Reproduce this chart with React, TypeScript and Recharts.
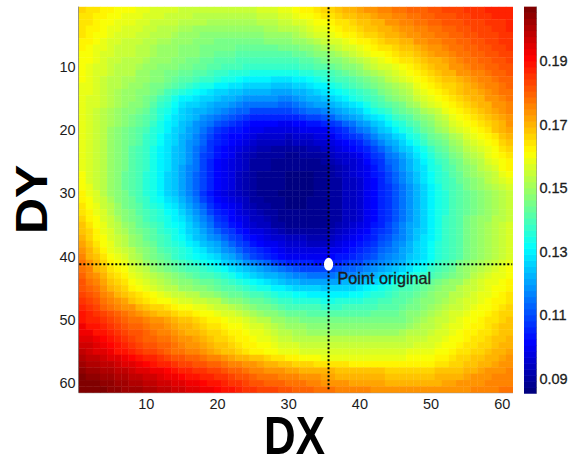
import { Scatter, ScatterChart, XAxis, YAxis } from "recharts";

const FONT = "Liberation Sans, Arial, sans-serif";
const FRAME = "#7f7f7f";
const INK = "#1c1c1c";

const V_MIN = 0.0853;
const V_MAX = 0.2072;

const AXIS_TICKS = [10, 20, 30, 40, 50, 60];
const BAR_TICKS = [0.09, 0.11, 0.13, 0.15, 0.17, 0.19];
const CROSS_X = 35.6;
const CROSS_Y = 41.2;
const V_LINE = [{ dx: CROSS_X, dy: 0.6 }, { dx: CROSS_X, dy: 61 }];
const H_LINE = [{ dx: 0.6, dy: CROSS_Y }, { dx: 61.4, dy: CROSS_Y }];
const ORIGIN = [{ dx: CROSS_X, dy: CROSS_Y }];

// values in thousandths, one line per DY (1..61), 61 per line for DX (1..61)
const VALUES = [
  [166,165,164,163,162, 161,160,160,159,158, 157,157,156,156,155, 155,155,155,154,154, 154,154,154,155,155, 156,157,157,158,159, 160,162,163,164,166, 167,168,170,171,172, 173,174,175,176,177, 178,179,179,180,181, 182,183,183,184,185, 186,186,187,187,188,188],
  [165,164,163,162,161, 160,159,159,158,157, 156,156,155,155,154, 154,153,153,152,152, 152,152,152,153,153, 154,155,155,156,157, 158,160,161,163,164, 165,166,168,169,170, 171,172,173,174,175, 176,177,178,179,180, 181,182,182,183,184, 185,185,186,187,187,188],
  [165,164,163,161,160, 159,158,158,157,156, 155,155,154,154,153, 153,152,152,151,151, 151,151,151,151,151, 152,153,153,154,155, 156,157,159,160,161, 162,164,165,167,168, 169,170,171,173,174, 175,176,177,178,179, 180,181,181,182,183, 184,184,185,185,186,187],
  [164,163,162,160,159, 158,157,157,156,155, 154,153,153,152,151, 151,150,150,149,149, 149,149,149,149,149, 150,151,151,152,152, 153,155,156,158,159, 161,162,164,165,167, 168,169,170,171,172, 173,174,175,176,177, 178,179,180,181,182, 183,184,184,185,186,187],
  [164,163,161,160,158, 157,156,156,155,154, 153,152,152,151,150, 149,149,148,148,147, 147,147,147,147,147, 148,149,149,150,150, 151,153,154,156,157, 159,160,162,163,165, 166,167,168,170,171, 172,173,174,175,176, 177,178,179,180,181, 182,183,183,184,185,186],
  [163,162,160,159,157, 156,155,155,154,153, 152,151,151,150,149, 149,148,147,147,146, 146,146,145,145,145, 146,147,147,148,148, 149,150,151,153,154, 156,157,159,160,162, 163,165,166,168,169, 170,171,173,174,175, 176,177,178,179,180, 181,182,183,184,185,186],
  [162,161,159,158,156, 155,155,154,153,152, 151,150,150,149,148, 148,147,146,146,145, 145,145,144,144,143, 143,144,144,145,145, 146,147,148,150,151, 153,154,156,157,159, 161,162,164,165,167, 168,169,170,172,173, 174,175,177,178,179, 180,181,182,183,184,185],
  [161,160,159,157,156, 155,155,154,153,152, 151,150,150,149,148, 148,147,146,145,144, 143,143,142,142,141, 141,141,141,142,142, 143,144,145,147,148, 150,151,153,154,156, 158,160,161,163,165, 166,167,169,170,172, 173,174,175,177,178, 179,180,181,182,183,184],
  [161,160,158,157,155, 154,153,153,152,151, 150,149,149,148,147, 146,145,144,143,142, 141,141,140,140,139, 139,139,139,139,139, 140,141,142,144,145, 147,148,150,151,153, 155,157,159,160,162, 164,165,167,168,170, 171,172,174,175,177, 178,179,180,181,182,183],
  [160,159,157,156,154, 153,152,152,151,150, 149,148,148,147,146, 145,144,143,142,141, 140,139,139,138,137, 137,137,137,137,137, 138,139,140,141,142, 144,145,147,148,150, 152,154,156,157,159, 161,163,165,166,168, 170,171,173,174,176, 177,178,179,180,181,182],
  [160,159,157,156,154, 153,152,152,150,149, 148,147,146,145,144, 143,142,141,139,138, 137,136,136,135,134, 134,134,133,133,133, 134,135,136,137,138, 140,142,144,145,147, 149,151,153,154,156, 158,160,162,164,166, 168,170,171,173,174, 175,176,178,179,180,181],
  [160,158,157,155,153, 152,151,151,150,149, 148,147,145,144,142, 141,140,138,137,135, 134,133,132,131,130, 130,130,129,129,129, 130,131,132,134,135, 137,139,140,142,144, 146,148,150,152,154, 156,158,160,162,164, 166,168,169,171,172, 173,175,176,177,179,180],
  [159,158,156,155,153, 152,151,150,149,148, 146,145,143,141,139, 137,136,134,133,131, 130,129,128,127,126, 126,126,125,125,125, 126,127,128,130,131, 133,135,137,139,141, 143,145,147,149,151, 153,155,158,160,162, 164,166,167,169,171, 172,173,175,176,178,179],
  [159,158,156,154,152, 151,150,149,148,147, 145,143,140,138,135, 133,132,130,129,127, 126,125,124,123,122, 122,122,121,121,121, 122,123,125,126,128, 130,132,134,136,138, 140,142,145,147,149, 151,153,156,158,160, 162,164,166,168,170, 171,172,174,175,177,178],
  [159,157,156,154,152, 151,150,149,147,146, 143,140,137,134,131, 130,129,127,126,124, 123,122,120,119,118, 118,118,118,117,117, 119,120,122,123,125, 127,129,131,133,135, 137,140,142,145,147, 149,151,154,156,158, 160,162,165,167,169, 170,171,173,174,176,177],
  [159,157,156,154,152, 151,150,148,147,145, 142,138,135,132,129, 127,126,124,123,121, 120,118,117,115,114, 114,114,114,113,113, 115,117,118,120,121, 123,125,127,129,131, 134,137,139,142,144, 146,149,151,154,156, 158,160,163,165,167, 168,170,171,173,174,176],
  [158,157,155,153,151, 150,148,147,145,143, 140,136,133,130,127, 125,123,122,120,118, 116,115,113,112,110, 110,110,110,109,109, 111,112,114,115,116, 118,120,123,125,127, 130,133,135,138,141, 143,146,148,151,153, 155,158,160,163,165, 167,168,170,172,173,175],
  [158,157,155,153,151, 149,148,146,144,142, 139,135,132,129,126, 124,122,119,117,115, 113,111,110,108,106, 106,106,106,105,105, 106,107,109,110,111, 113,116,118,121,123, 126,129,131,134,137, 140,142,145,147,150, 153,155,158,160,163, 165,166,168,170,172,174],
  [158,157,155,153,151, 149,147,145,143,141, 138,134,131,128,125, 122,119,117,114,111, 109,107,106,104,102, 102,101,101,100,100, 101,102,103,104,105, 108,110,113,115,118, 121,124,127,130,133, 136,139,142,145,148, 151,153,156,158,161, 163,165,167,169,171,173],
  [158,156,154,152,150, 148,146,143,141,139, 136,133,130,127,124, 121,118,114,111,108, 106,104,103,101,99, 99,98,98,97,97, 98,99,99,100,100, 103,106,108,111,114, 117,120,124,127,130, 133,136,140,143,146, 149,151,154,156,159, 161,163,165,168,170,172],
  [158,156,154,152,150, 148,146,143,141,138, 135,132,129,126,123, 120,116,113,109,106, 104,102,101,99,97, 96,96,95,95,94, 95,96,96,97,98, 100,103,105,108,110, 113,116,120,123,126, 129,133,136,140,143, 146,148,151,153,156, 158,161,163,165,168,170],
  [158,156,154,152,150, 148,146,143,141,138, 135,132,129,126,123, 119,116,112,108,105, 103,101,99,97,95, 94,94,93,93,92, 93,94,94,95,96, 98,100,102,104,106, 109,113,116,120,123, 127,130,134,137,141, 144,146,149,151,154, 156,159,161,163,166,168],
  [158,156,154,152,150, 147,145,142,140,137, 134,131,128,125,122, 118,115,111,108,104, 102,100,97,95,93, 92,92,91,91,90, 91,91,92,92,93, 95,97,99,101,103, 106,109,113,116,120, 124,127,131,134,138, 141,144,147,149,152, 154,157,159,161,164,166],
  [159,156,154,152,150, 147,145,142,140,137, 134,131,128,125,122, 118,115,110,107,103, 101,99,96,94,92, 91,91,90,90,89, 89,90,90,91,91, 93,95,96,98,100, 103,107,110,114,117, 121,125,128,132,136, 139,142,145,148,151, 153,155,158,160,163,165],
  [159,156,154,152,150, 147,145,142,140,137, 134,131,128,125,122, 118,114,110,106,102, 100,98,95,93,91, 90,90,89,89,88, 88,88,89,89,90, 92,93,95,96,98, 101,105,108,112,115, 119,123,127,130,134, 137,140,143,146,149, 151,153,156,158,161,163],
  [159,156,154,152,150, 147,145,142,140,137, 134,131,128,124,121, 117,114,110,106,102, 100,98,95,93,91, 90,90,89,89,88, 88,88,88,89,89, 91,92,94,95,97, 100,104,107,111,114, 118,122,126,129,133, 136,139,142,145,148, 150,152,155,157,160,162],
  [160,157,155,152,150, 147,144,142,139,136, 133,130,127,124,121, 117,113,109,105,101, 99,97,94,92,90, 89,89,88,88,87, 87,87,87,88,88, 90,92,93,95,97, 100,103,106,110,113, 117,121,125,128,132, 135,138,141,144,147, 149,151,153,155,158,160],
  [160,157,155,152,150, 147,144,142,139,136, 133,130,127,124,121, 117,113,109,105,101, 99,97,94,92,90, 89,89,88,88,87, 87,87,87,88,88, 90,91,93,94,96, 99,102,106,109,112, 116,120,124,128,132, 135,138,140,143,146, 148,150,152,154,156,158],
  [161,158,155,153,150, 147,144,142,139,136, 133,130,127,124,121, 117,113,109,105,101, 99,97,94,92,90, 89,89,88,88,87, 87,87,87,88,88, 90,91,93,94,96, 99,102,105,108,111, 115,119,123,127,131, 134,137,139,142,145, 147,149,151,153,155,157],
  [162,159,156,153,150, 148,145,142,139,136, 133,130,127,124,121, 117,113,108,104,100, 98,96,94,92,90, 89,88,88,87,86, 86,87,87,88,88, 90,91,93,94,96, 99,102,105,108,111, 115,119,123,127,131, 134,136,139,141,144, 146,148,150,151,153,155],
  [163,160,157,154,151, 148,145,143,140,137, 134,132,129,126,123, 119,115,110,106,102, 100,98,95,93,91, 90,89,89,88,87, 87,87,88,88,88, 90,91,93,94,96, 99,102,105,108,111, 115,119,123,127,131, 134,136,139,141,144, 146,148,150,151,153,155],
  [164,161,158,155,152, 149,146,144,141,138, 135,133,131,128,125, 121,117,112,108,104, 102,99,97,94,92, 91,90,89,88,87, 87,87,88,88,88, 90,91,93,94,96, 99,102,105,108,111, 115,119,123,127,131, 134,136,139,141,144, 146,148,150,151,153,155],
  [165,162,159,156,153, 150,147,145,142,139, 137,135,132,130,127, 123,119,114,110,106, 103,101,98,95,93, 92,91,90,89,88, 88,88,88,88,88, 90,91,93,94,96, 99,102,105,108,111, 115,119,123,127,131, 134,136,139,141,144, 146,148,150,151,153,155],
  [166,163,160,157,154, 151,148,146,143,140, 138,136,134,131,128, 124,120,116,112,108, 105,102,99,97,94, 93,92,90,89,88, 88,88,88,88,88, 90,91,93,94,96, 99,102,105,108,111, 115,119,123,127,131, 134,137,139,142,145, 147,149,150,152,153,155],
  [168,165,161,158,155, 152,149,147,144,141, 139,137,134,132,130, 126,122,118,114,110, 107,104,101,98,95, 94,93,91,90,89, 89,89,89,89,89, 91,92,94,95,97, 100,103,106,109,112, 116,120,123,127,131, 134,137,139,142,145, 147,149,151,152,154,156],
  [169,166,162,159,156, 153,151,148,146,143, 141,138,136,133,131, 127,124,120,117,113, 110,107,104,101,98, 97,95,94,92,91, 91,91,90,90,90, 92,94,95,97,99, 102,105,107,110,113, 117,120,124,127,131, 134,137,139,142,145, 147,149,151,152,154,156],
  [170,167,163,160,157, 154,152,149,147,144, 142,139,137,134,132, 129,125,122,119,116, 113,110,107,104,101, 99,98,96,95,93, 93,93,92,92,92, 94,96,97,99,101, 104,106,109,111,114, 117,121,124,128,131, 134,137,139,142,145, 147,149,151,152,154,156],
  [172,168,165,161,158, 155,153,150,148,145, 143,140,138,135,133, 130,128,125,123,120, 116,113,110,107,104, 102,100,99,97,95, 95,95,94,94,94, 96,98,99,101,103, 106,108,111,113,116, 119,122,126,129,132, 135,137,140,142,145, 147,149,151,152,154,156],
  [174,170,167,163,159, 157,155,152,150,147, 145,142,140,137,135, 133,130,128,125,123, 119,116,113,110,107, 105,103,102,100,98, 98,98,97,97,97, 99,100,102,103,105, 107,110,112,115,117, 120,123,126,129,132, 135,137,140,142,145, 147,149,151,153,155,157],
  [175,171,168,164,160, 158,156,153,151,148, 146,143,141,138,136, 134,132,130,128,126, 123,120,116,113,110, 108,106,104,102,100, 100,100,100,100,100, 101,103,104,106,107, 109,111,114,116,118, 121,124,126,129,132, 135,137,140,142,145, 147,149,151,153,155,157],
  [177,173,170,166,162, 160,158,155,153,150, 148,146,143,141,139, 137,135,134,132,130, 127,124,122,119,116, 114,112,110,108,106, 106,105,105,104,104, 105,106,108,109,110, 112,114,116,118,120, 123,126,128,131,134, 137,139,142,145,147, 149,151,153,155,157,158],
  [178,175,171,168,164, 162,160,157,155,152, 150,148,146,144,142, 140,139,137,136,134, 132,129,127,125,122, 120,118,116,114,112, 111,110,110,109,109, 110,111,112,113,114, 116,118,120,122,124, 127,129,132,134,137, 139,142,144,147,149, 151,153,155,157,158,160],
  [179,176,173,170,167, 164,162,159,157,154, 152,151,149,147,145, 143,142,140,139,137, 135,133,131,129,127, 125,123,122,120,118, 117,116,115,115,115, 115,116,116,117,118, 120,122,124,126,128, 130,133,135,138,140, 142,144,146,148,150, 152,154,156,158,159,161],
  [181,178,175,172,169, 166,164,161,159,156, 154,153,151,150,148, 147,146,144,143,141, 139,138,136,134,132, 130,128,126,124,122, 122,121,121,120,120, 121,121,122,122,123, 125,127,129,131,133, 135,137,139,141,143, 145,147,149,150,152, 154,156,158,159,161,162],
  [182,179,177,174,171, 168,166,163,161,158, 156,155,153,152,150, 149,148,147,145,144, 142,141,139,138,136, 134,133,131,130,128, 127,127,126,126,125, 126,126,127,127,128, 130,132,133,135,137, 139,140,142,143,145, 147,149,150,152,154, 155,157,158,160,161,163],
  [184,181,179,176,173, 171,168,166,164,162, 160,158,157,155,154, 153,152,150,149,148, 146,144,143,141,140, 139,137,136,134,133, 132,132,131,131,130, 130,131,131,132,132, 133,135,136,138,139, 141,142,144,145,147, 149,150,152,153,155, 156,158,159,161,162,164],
  [186,183,181,178,176, 174,172,169,167,165, 163,161,160,158,157, 156,155,154,153,152, 150,148,147,145,144, 143,141,140,138,137, 136,136,135,135,134, 134,135,135,136,136, 137,138,139,140,141, 142,144,145,147,148, 150,151,153,154,156, 157,159,160,162,163,165],
  [187,185,183,180,178, 176,174,173,171,169, 167,166,164,162,161, 160,159,158,156,155, 154,152,151,149,148, 146,145,143,142,140, 140,140,139,139,138, 138,138,139,139,139, 140,140,141,141,142, 143,145,146,148,149, 151,152,154,155,157, 158,160,161,163,164,166],
  [189,187,185,183,181, 179,177,176,174,172, 170,169,168,166,165, 164,163,161,160,159, 157,156,154,153,151, 150,148,147,145,144, 143,143,142,142,141, 141,141,142,142,142, 142,143,143,144,144, 145,147,148,150,151, 153,154,156,157,159, 160,161,163,164,166,167],
  [190,188,187,185,183, 181,180,178,177,175, 174,173,172,170,169, 168,166,165,163,162, 161,159,158,156,155, 153,152,150,149,147, 147,146,146,145,145, 145,145,145,145,145, 145,145,145,145,145, 146,148,149,151,152, 154,155,157,158,160, 161,162,164,165,167,168],
  [192,190,189,187,185, 183,182,180,179,177, 176,175,174,172,171, 170,168,167,165,164, 163,161,160,158,157, 156,154,153,151,150, 149,149,148,148,147, 147,147,147,147,147, 147,147,147,147,147, 148,149,151,152,153, 155,156,158,159,161, 162,163,165,166,168,169],
  [193,192,190,189,187, 185,184,182,181,179, 178,176,175,173,172, 171,170,169,167,166, 165,163,162,160,159, 158,156,155,153,152, 151,151,150,150,150, 150,150,150,150,150, 150,150,150,150,150, 151,152,153,153,154, 156,157,159,160,162, 163,164,165,166,168,169],
  [195,194,192,191,189, 187,186,184,182,180, 179,178,177,175,174, 173,172,170,169,167, 166,165,163,162,160, 159,158,157,155,154, 153,153,153,152,152, 152,152,152,152,152, 152,152,152,152,152, 153,154,154,155,156, 157,158,160,161,163, 164,165,166,168,169,170],
  [197,196,194,193,191, 189,187,186,184,182, 181,180,179,177,175, 174,173,172,170,169, 168,166,165,163,162, 161,160,159,157,156, 156,155,155,154,154, 154,154,154,154,154, 154,154,154,154,154, 155,155,156,156,157, 158,160,161,163,164, 165,166,167,169,170,171],
  [198,197,195,194,192, 190,189,187,186,184, 183,181,180,178,177, 176,175,173,172,170, 169,168,166,165,163, 162,161,160,159,158, 158,157,157,156,156, 156,156,156,156,156, 156,156,157,157,157, 157,158,158,159,159, 160,161,163,164,165, 166,167,168,170,171,172],
  [200,199,198,196,195, 194,192,191,189,188, 187,185,184,182,181, 180,179,177,176,175, 174,172,171,170,169, 168,167,165,164,163, 162,161,161,160,159, 159,159,159,159,159, 159,159,159,159,159, 159,160,160,161,161, 162,163,165,166,167, 168,169,170,171,172,173],
  [202,201,200,199,198, 197,195,194,192,191, 190,188,187,185,184, 183,182,181,180,179, 178,176,175,174,173, 172,171,170,169,168, 167,166,166,165,165, 164,164,164,163,163, 163,163,162,162,162, 162,162,163,163,163, 164,165,166,167,168, 169,170,171,172,173,174],
  [204,203,202,201,200, 199,198,197,195,194, 193,192,191,189,188, 187,186,185,184,183, 182,180,179,178,176, 175,174,174,173,172, 172,171,171,170,170, 170,169,169,168,168, 168,168,168,167,167, 167,167,167,167,167, 168,168,169,169,170, 171,172,173,174,174,175],
  [206,205,204,203,202, 201,200,199,198,197, 196,195,193,192,191, 190,189,188,187,186, 185,183,182,181,179, 178,177,177,176,175, 175,174,173,173,172, 172,171,171,170,170, 170,170,170,169,169, 169,169,169,169,169, 170,170,171,171,172, 173,173,174,175,175,176],
  [207,206,206,205,204, 203,202,201,200,199, 198,197,196,195,194, 193,192,191,190,189, 188,186,185,184,182, 181,180,180,179,178, 177,177,176,175,174, 174,173,173,172,172, 172,172,172,171,171, 171,171,171,171,171, 171,172,172,173,173, 174,174,175,175,176,176],
  [207,207,206,206,205, 204,203,203,202,201, 200,199,198,197,196, 195,194,193,192,191, 190,189,187,186,185, 184,183,183,182,181, 180,180,179,178,177, 177,176,176,175,175, 175,174,174,174,173, 173,173,173,173,173, 173,173,174,174,174, 175,175,176,176,177,177],
];

// plot box in page pixels
const TOP = 6.6;
const PLOT_W = 434.4;
const PLOT_H = 386.1;
const CELL_W = PLOT_W / 61;
const CELL_H = PLOT_H / 61;
const BAR_W = 12.4;
const LEVELS = 64;
const BAR_STEP = PLOT_H / LEVELS;

// matlab jet, 64 flat levels
function jet(v: number) {
  const t = Math.min(63, Math.max(0, Math.floor(((v - V_MIN) / (V_MAX - V_MIN)) * LEVELS))) / 63;
  const ch = (c: number) => Math.round(255 * Math.min(1, Math.max(0, 1.5 - Math.abs(4 * t - c))));
  return `rgb(${ch(3)},${ch(2)},${ch(1)})`;
}

const cells = VALUES.flatMap((row, r) =>
  row.map((value, c) => ({ dx: c + 1, dy: r + 1, value: value / 1000 })),
);
const barLevels = Array.from({ length: LEVELS }, (_, i) => ({
  x: 0.5,
  value: V_MIN + ((i + 0.5) / LEVELS) * (V_MAX - V_MIN),
}));

function HeatCell({ cx, cy, payload }: any) {
  return (
    <rect
      x={cx - CELL_W / 2}
      y={cy - CELL_H / 2}
      width={CELL_W + 0.4}
      height={CELL_H + 0.4}
      fill={jet(payload.value)}
    />
  );
}

function BarCell({ cx, cy, payload }: any) {
  return <rect x={cx - BAR_W / 2} y={cy - BAR_STEP / 2 - 0.3} width={BAR_W} height={BAR_STEP + 0.6} fill={jet(payload.value)} />;
}

function OriginPoint({ cx, cy }: any) {
  return (
    <g>
      <ellipse cx={cx} cy={cy} rx={4.6} ry={6.4} fill="#fff" />
      <text x={cx + 9} y={cy + 19.5} fontFamily={FONT} fontSize={16.2} fill={INK} stroke={INK} strokeWidth={0.35}>
        Point original
      </text>
    </g>
  );
}

const noLabel = () => <g />;
const noMark = () => <g />;
const dotted = { stroke: "#000", strokeWidth: 2, strokeDasharray: "2 2" };

export default function App() {
  const tickStyle = { fontFamily: FONT, fontSize: 14.5, fill: INK };
  return (
    <div style={{ position: "absolute", left: 0, top: 0, width: 572, height: 459, background: "#fff" }}>
      <ScatterChart
        width={572}
        height={459}
        margin={{ left: 38.6, top: TOP, right: 59, bottom: 36.3 }}
        style={{ position: "absolute", left: 0, top: 0 }}
      >
        <XAxis
          type="number"
          dataKey="dx"
          domain={[0.5, 61.5]}
          ticks={AXIS_TICKS}
          allowDataOverflow
          height={30}
          stroke={FRAME}
          tickSize={-4}
          tickMargin={10}
          tick={tickStyle}
        />
        <XAxis xAxisId="top" orientation="top" type="number" domain={[0.5, 61.5]} ticks={AXIS_TICKS} height={0} stroke={FRAME} tickSize={-4} tick={noLabel} />
        <YAxis
          type="number"
          dataKey="dy"
          domain={[0.5, 61.5]}
          ticks={AXIS_TICKS}
          reversed
          allowDataOverflow
          width={40}
          stroke={FRAME}
          tickSize={-4}
          tickMargin={7}
          tick={tickStyle}
        />
        <YAxis yAxisId="right" orientation="right" type="number" domain={[0.5, 61.5]} ticks={AXIS_TICKS} reversed width={0} stroke={FRAME} tickSize={-4} tick={noLabel} />
        <Scatter data={cells} isAnimationActive={false} shape={<HeatCell />} />
        <Scatter data={V_LINE} isAnimationActive={false} line={dotted} shape={noMark} />
        <Scatter data={H_LINE} isAnimationActive={false} line={dotted} shape={noMark} />
        <Scatter data={ORIGIN} isAnimationActive={false} shape={<OriginPoint />} />
        <text
          transform="translate(264,454) scale(1.02,1.26)"
          fontFamily={FONT}
          fontSize={43}
          fontWeight={700}
          fill="#000"
        >
          DX
        </text>
        <text
          transform="translate(47,234) rotate(-90) scale(1,0.9)"
          fontFamily={FONT}
          fontSize={50}
          fontWeight={700}
          fill="#000"
        >
          DY
        </text>
      </ScatterChart>

      <ScatterChart
        width={48}
        height={459}
        margin={{ left: 0, top: TOP, right: 0, bottom: 65.3 }}
        style={{ position: "absolute", left: 524.3, top: 0 }}
      >
        <XAxis type="number" dataKey="x" domain={[0, 1]} hide />
        <YAxis
          orientation="right"
          type="number"
          dataKey="value"
          domain={[V_MIN, V_MAX]}
          ticks={BAR_TICKS}
          allowDataOverflow
          width={35.6}
          stroke={FRAME}
          tickSize={-3}
          tickMargin={6}
          tick={{ ...tickStyle, stroke: INK, strokeWidth: 0.3 }}
          tickFormatter={(v: number) => v.toFixed(2)}
        />
        <Scatter data={barLevels} isAnimationActive={false} shape={<BarCell />} />
      </ScatterChart>
    </div>
  );
}
